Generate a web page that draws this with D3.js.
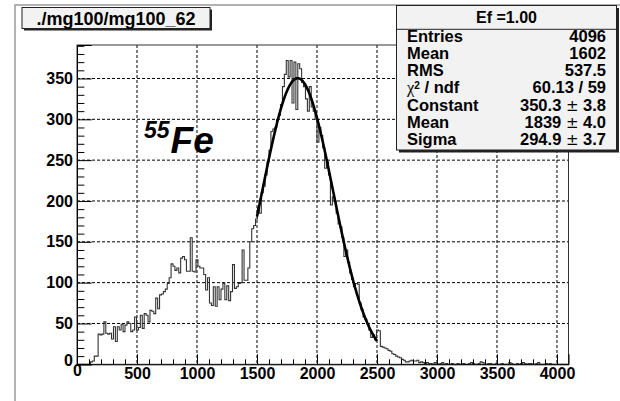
<!DOCTYPE html>
<html>
<head>
<meta charset="utf-8">
<script src="https://cdn.jsdelivr.net/npm/d3@7"></script>
<style>
  body { margin: 0; background: #fff; }
  svg { display: block; }
  text { font-family: "Liberation Sans", Arial, sans-serif; font-weight: bold; }
</style>
</head>
<body>
<div id="chart"></div>
<script>
// histogram: 256 bins of width 16 over 0..4096
var binWidth = 16;
var counts = [
  0, 0, 0, 0, 0, 0, 0, 3, 4, 10,
  10, 37, 36, 37, 52, 38, 37, 38, 31, 46,
  28, 46, 42, 49, 40, 48, 52, 50, 40, 42,
  58, 42, 45, 60, 44, 62, 60, 52, 66, 65,
  62, 81, 68, 85, 86, 89, 92, 99, 106, 123,
  120, 115, 118, 112, 130, 132, 128, 114, 114, 155,
  114, 113, 128, 120, 118, 118, 110, 91, 106, 75,
  72, 95, 71, 95, 79, 92, 99, 79, 96, 78,
  89, 122, 93, 95, 99, 100, 140, 103, 103, 118,
  150, 166, 170, 178, 192, 185, 210, 218, 232, 248,
  262, 285, 288, 290, 300, 305, 318, 340, 355, 372,
  352, 372, 320, 370, 312, 368, 362, 345, 340, 325,
  310, 340, 315, 310, 300, 272, 290, 280, 265, 240,
  248, 232, 195, 205, 200, 185, 172, 168, 155, 132,
  140, 125, 112, 104, 95, 99, 98, 75, 67, 58,
  55, 50, 42, 33, 36, 30, 42, 41, 22, 21,
  20, 19, 17, 16, 13, 12, 10, 9, 8, 6,
  5, 3, 3, 4, 5, 4, 4, 5, 2, 3,
  2, 1, 2, 1, 1, 0, 2, 1, 0, 1,
  2, 0, 1, 0, 0, 1, 0, 0, 1, 0,
  0, 1, 0, 0, 1, 2, 1, 0, 0, 1,
  3, 2, 0, 0, 1, 1, 0, 0, 1, 0,
  0, 1, 0, 0, 0, 2, 1, 0, 0, 1,
  0, 1, 2, 1, 0, 1, 1, 0, 0, 1,
  2, 0, 0, 0, 1, 0, 1, 0, 0, 0,
  0, 0, 0, 0, 0, 0
];

// gaussian fit: constant, mean, sigma, fit range
var fitParams = [350.3, 1839, 294.9];
var fitRange = [1500, 2500];

var xMajor = [0, 500, 1000, 1500, 2000, 2500, 3000, 3500, 4000];
var yMajor = [0, 50, 100, 150, 200, 250, 300, 350];

var statLabels = ["Entries", "Mean", "RMS", "chi2", "Constant", "Mean", "Sigma"];
var statValues = ["4096", "1602", "537.5", "60.13 / 59", "350.3 \u00b1 3.8", "1839 \u00b1 4.0", "294.9 \u00b1 3.7"];

var svgWidth = 620;
var svgHeight = 401;

var svg = d3.select("#chart")
  .append("svg")
  .attr("width", svgWidth)
  .attr("height", svgHeight);

// canvas border (only top and left are visible)
svg.append("rect")
  .attr("x", 15).attr("y", 5)
  .attr("width", 620).attr("height", 410)
  .attr("fill", "none")
  .attr("stroke", "#999")
  .attr("stroke-width", 1.5);

var x = d3.scaleLinear().domain([0, 4096]).range([77, 568.5]);
var y = d3.scaleLinear().domain([0, 391]).range([364.3, 45]);

var xMinor = d3.range(0, 4096, 100).filter(v => v % 500 !== 0);
var yMinor = d3.range(0, 391, 10).filter(v => v % 50 !== 0);

// grid
svg.append("g").selectAll("line")
  .data(xMajor.slice(1))
  .enter().append("line")
  .attr("x1", d => x(d)).attr("x2", d => x(d))
  .attr("y1", y(391)).attr("y2", y(0))
  .attr("stroke", "#000")
  .attr("stroke-width", 1)
  .attr("stroke-dasharray", "3,2");

svg.append("g").selectAll("line")
  .data(yMajor.slice(1))
  .enter().append("line")
  .attr("x1", x(0)).attr("x2", x(4096))
  .attr("y1", d => y(d)).attr("y2", d => y(d))
  .attr("stroke", "#000")
  .attr("stroke-width", 1)
  .attr("stroke-dasharray", "3,2");

// histogram outline
var histPts = counts.map((c, i) => [i * binWidth, c]);
histPts.push([counts.length * binWidth, counts[counts.length - 1]]);

var histLine = d3.line()
  .x(d => x(d[0]))
  .y(d => y(d[1]))
  .curve(d3.curveStepAfter);

svg.append("path")
  .datum(histPts)
  .attr("d", histLine)
  .attr("fill", "none")
  .attr("stroke", "#333")
  .attr("stroke-width", 1.1);

// fit curve
var fitPts = d3.range(fitRange[0], fitRange[1] + 1, 5).map(function(v) {
  var d = v - fitParams[1];
  return [v, fitParams[0] * Math.exp(-d * d / (2 * fitParams[2] * fitParams[2]))];
});

svg.append("path")
  .datum(fitPts)
  .attr("d", d3.line().x(d => x(d[0])).y(d => y(d[1])))
  .attr("fill", "none")
  .attr("stroke", "#000")
  .attr("stroke-width", 2.6);

// frame
svg.append("rect")
  .attr("x", x(0)).attr("y", y(391))
  .attr("width", x(4096) - x(0)).attr("height", y(0) - y(391))
  .attr("fill", "none")
  .attr("stroke", "#333")
  .attr("stroke-width", 1);

// axes
var yAxis = svg.append("g")
  .attr("transform", `translate(${x(0)},0)`)
  .call(d3.axisLeft(y).tickValues(yMajor).tickSize(-14.7).tickPadding(4).tickFormat(d3.format("d")))
  .attr("font-size", 16)
  .attr("font-family", "Liberation Sans, Arial, sans-serif")
  .attr("font-weight", "bold");

svg.append("g")
  .attr("transform", `translate(${x(0)},0)`)
  .call(d3.axisLeft(y).tickValues(yMinor).tickSize(-7.4).tickFormat(""))
  .call(g => g.select(".domain").remove());

var xAxis = svg.append("g")
  .attr("transform", `translate(0,${y(0)})`)
  .call(d3.axisBottom(x).tickValues(xMajor).tickSize(-10).tickPadding(3.5).tickFormat(d3.format("d")))
  .attr("font-size", 16)
  .attr("font-family", "Liberation Sans, Arial, sans-serif")
  .attr("font-weight", "bold");

svg.append("g")
  .attr("transform", `translate(0,${y(0)})`)
  .call(d3.axisBottom(x).tickValues(xMinor).tickSize(-5).tickFormat(""))
  .call(g => g.select(".domain").remove());

svg.selectAll(".domain").attr("stroke", "#000");
svg.selectAll(".tick line").attr("stroke", "#000");
svg.selectAll(".tick text").attr("fill", "#000");

// the zero labels are nudged like ROOT does
yAxis.selectAll(".tick").filter(d => d === 0).select("text").attr("dy", "0.1em");
xAxis.selectAll(".tick").filter(d => d === 0).select("text").attr("y", 0);

// 55Fe label
var fe = svg.append("text")
  .attr("x", 144)
  .attr("y", 153)
  .attr("font-style", "italic")
  .attr("fill", "#000");
fe.append("tspan").attr("font-size", 23).attr("dy", -15).text("55");
fe.append("tspan").attr("font-size", 37).attr("dy", 15).attr("dx", 1).text("Fe");

// title box
svg.append("rect")
  .attr("x", 24).attr("y", 9.5)
  .attr("width", 188).attr("height", 21)
  .attr("fill", "#222");
svg.append("rect")
  .attr("x", 22).attr("y", 7.5)
  .attr("width", 188).attr("height", 21)
  .attr("fill", "#f2f2f2")
  .attr("stroke", "#222")
  .attr("stroke-width", 1);
svg.append("text")
  .attr("x", 116).attr("y", 25)
  .attr("text-anchor", "middle")
  .attr("font-size", 18)
  .text("./mg100/mg100_62");

// stats box
var sx = 396.5, sy = 5.5, sw = 220, sh = 144.5;
svg.append("rect")
  .attr("x", sx + 2.5).attr("y", sy + 2.5)
  .attr("width", sw).attr("height", sh)
  .attr("fill", "#222");
svg.append("rect")
  .attr("x", sx).attr("y", sy)
  .attr("width", sw).attr("height", sh)
  .attr("fill", "#f2f2f2")
  .attr("stroke", "#222")
  .attr("stroke-width", 1);
svg.append("line")
  .attr("x1", sx).attr("x2", sx + sw)
  .attr("y1", 29.3).attr("y2", 29.3)
  .attr("stroke", "#222");
svg.append("text")
  .attr("x", sx + sw / 2).attr("y", 23)
  .attr("text-anchor", "middle")
  .attr("font-size", 16)
  .text("Ef =1.00");

var labelText = svg.append("g").selectAll("text")
  .data(statLabels)
  .enter().append("text")
  .attr("x", 407)
  .attr("y", (d, i) => 41.5 + i * 17.25)
  .attr("font-size", 16.5);

labelText.filter(d => d !== "chi2").text(d => d);

// chi-square label: greek letter in a serif face, like ROOT's symbol font
var chi = labelText.filter(d => d === "chi2");
chi.append("tspan")
  .attr("font-family", "Liberation Serif, DejaVu Serif, serif")
  .attr("font-weight", "normal")
  .attr("font-size", 16.5)
  .text("\u03c7");
chi.append("tspan")
  .attr("font-size", 10)
  .attr("dy", -4.5)
  .text("2");
chi.append("tspan")
  .attr("dy", 4.5)
  .text(" / ndf");

var valueText = svg.append("g").selectAll("text")
  .data(statValues)
  .enter().append("text")
  .attr("x", 606)
  .attr("y", (d, i) => 41.5 + i * 17.25)
  .attr("text-anchor", "end")
  .attr("font-size", 16.5);

valueText.each(function(d) {
  var parts = d.split("\u00b1");
  var t = d3.select(this);
  t.append("tspan").text(parts[0]);
  if (parts.length > 1) {
    t.append("tspan")
      .attr("font-weight", "normal")
      .attr("font-family", "DejaVu Sans, sans-serif")
      .attr("font-size", 15)
      .text("\u00b1");
    t.append("tspan").text(parts[1]);
  }
});
</script>
</body>
</html>
